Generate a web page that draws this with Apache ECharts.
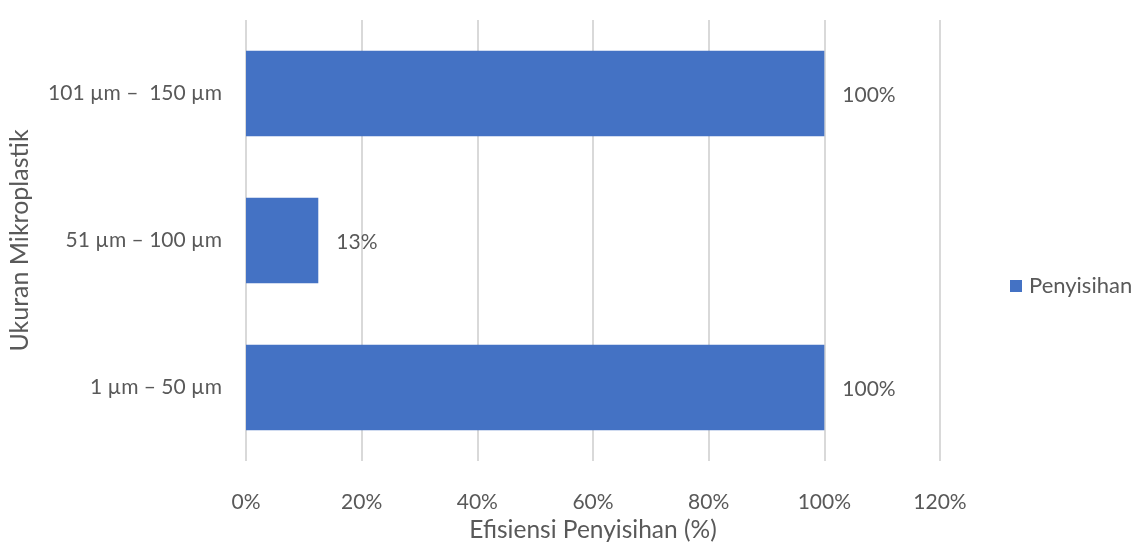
<!DOCTYPE html>
<html>
<head>
<meta charset="utf-8">
<script src="https://cdn.jsdelivr.net/npm/echarts@6/dist/echarts.min.js"></script>
<style>html,body{margin:0;padding:0;background:#fff}#c{width:1135px;height:543px}</style>
</head>
<body>
<div id="c"></div>
<script>
const categories = ['1 µm – 50 µm', '51 µm – 100 µm', '101 µm –  150 µm'];
const seriesName = 'Penyisihan';
const values = [100, 12.5, 100];
const xTicks = [0, 20, 40, 60, 80, 100, 120];
const xTitle = 'Efisiensi Penyisihan (%)';
const yTitle = 'Ukuran Mikroplastik';

const FONT = 'Lato, "Open Sans", sans-serif';
const TXT = '#595959';
const chart = echarts.init(document.getElementById('c'), null, {renderer: 'canvas'});
chart.setOption({
  animation: false,
  textStyle: {fontFamily: FONT},
  grid: {left: 246, top: 20, width: 694, height: 441, containLabel: false, outerBoundsMode: 'none'},
  legend: {
    data: [seriesName], orient: 'vertical', left: 1010, top: 275, padding: 0,
    itemWidth: 12, itemHeight: 12, itemGap: 6,
    icon: 'rect',
    textStyle: {color: TXT, fontSize: 22, fontFamily: FONT, padding: [0, 0, 0, 2]}
  },
  xAxis: {
    type: 'value', min: xTicks[0], max: xTicks[xTicks.length - 1], interval: 20,
    name: xTitle, nameLocation: 'middle', nameGap: 56,
    nameTextStyle: {color: TXT, fontSize: 24.5, fontFamily: FONT},
    axisLine: {show: false}, axisTick: {show: false},
    axisLabel: {color: TXT, fontSize: 21, margin: 31, formatter: v => v + '%', fontFamily: FONT},
    splitLine: {show: true, lineStyle: {color: '#d9d9d9', width: 2}}
  },
  yAxis: {
    type: 'category', data: categories,
    name: yTitle, nameLocation: 'middle', nameGap: 214, nameRotate: 90,
    nameTextStyle: {color: TXT, fontSize: 25, fontFamily: FONT},
    axisLine: {show: false}, axisTick: {show: false},
    axisLabel: {color: TXT, fontSize: 21, margin: 24, fontFamily: FONT},
    splitLine: {show: false}
  },
  series: [{
    name: seriesName, type: 'bar', data: values,
    barCategoryGap: '42%',
    itemStyle: {color: '#4472C4'},
    label: {show: true, position: 'right', distance: 18, color: TXT, fontSize: 21, fontFamily: FONT,
      offset: [0, 2],
      formatter: p => Math.round(p.value) + '%'}
  }]
});
</script>
</body>
</html>
